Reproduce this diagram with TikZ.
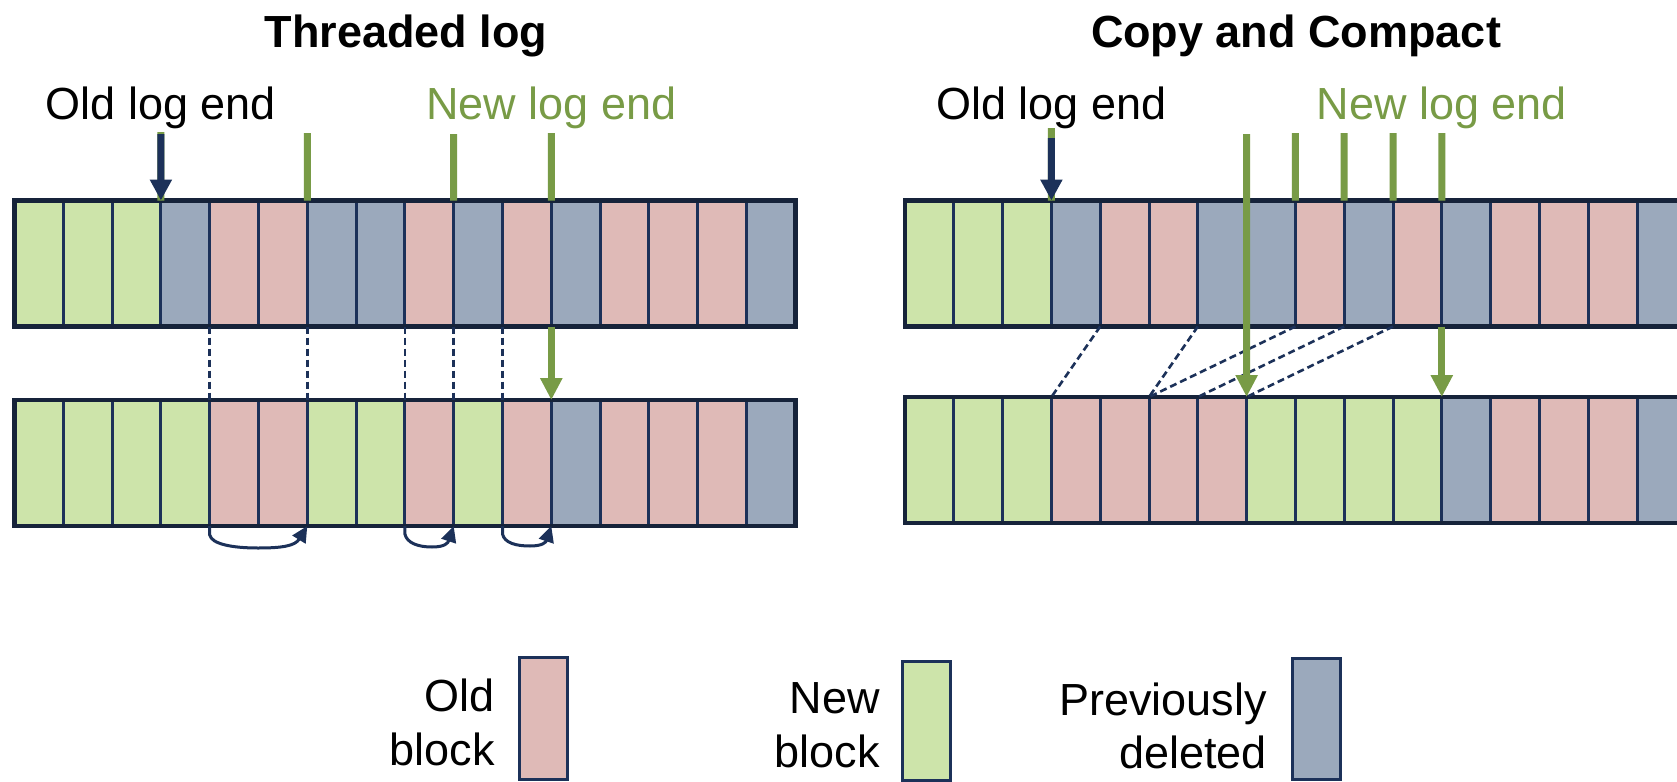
\documentclass[tikz,border=0pt]{standalone}
\usepackage{fontspec}
\setmainfont{Liberation Sans}
\usetikzlibrary{arrows.meta,calc}
\definecolor{cG}{HTML}{CDE4AA}
\definecolor{cR}{HTML}{DFBAB7}
\definecolor{cD}{HTML}{9BA9BC}
\definecolor{navy}{HTML}{1C3159}
\definecolor{framec}{HTML}{16233A}
\definecolor{olive}{HTML}{789B46}
\begin{document}
\begin{tikzpicture}[x=1pt,y=-1pt,
  cell/.style={draw=navy, line width=3pt, minimum width=48.8pt, minimum height=126pt, inner sep=0pt, outer sep=0pt},
  frameline/.style={draw=framec, line width=4.5pt},
  lbl/.style={font=\fontsize{45}{54}\selectfont, inner sep=0pt},
  ttl/.style={font=\bfseries\fontsize{45}{54}\selectfont, inner sep=0pt},
  navyarr/.style={draw=navy, line width=7pt, -{Triangle[length=21pt,width=21pt]}},
  oliveline/.style={draw=olive, line width=7pt},
  olivearr/.style={draw=olive, line width=7pt, -{Triangle[length=22pt,width=21pt]}},
  dashln/.style={draw=navy, line width=2.6pt, dash pattern=on 7pt off 4pt},
  curvarr/.style={draw=navy, line width=3pt, -{Triangle[length=16pt,width=15pt]}},
  legbox/.style={draw=navy, line width=3pt, minimum width=48pt, inner sep=0pt}
]
\clip (0,0) rectangle (1677,781);
\fill[white] (0,0) rectangle (1677,781);

% titles
\node[ttl, anchor=base] (t1) at (406,48) {Threaded log};
\node[ttl, anchor=base] (t2) at (1296,48) {Copy and Compact};

% ---------- left: threaded log ----------
\foreach \c [count=\i from 0] in {G,G,G,D,R,R,D,D,R,D,R,D,R,R,R,D}
  \node[cell, fill=c\c] (LT\i) at ({14.5+48.8*\i+24.4},263.5) {};
\draw[frameline] (LT0.north west) rectangle (LT15.south east);
\foreach \c [count=\i from 0] in {G,G,G,G,R,R,G,G,R,G,R,D,R,R,R,D}
  \node[cell, fill=c\c] (LB\i) at ({14.5+48.8*\i+24.4},463) {};
\draw[frameline] (LB0.north west) rectangle (LB15.south east);

\node[lbl, anchor=base] (oldL) at (160.9,120) {Old log end};
\node[lbl, anchor=base, text=olive] (newL) at (551.3,120) {New log end};

\coordinate (gL3) at (160.9,132);
\coordinate (aL3) at (160.9,134);
\coordinate (gL6) at (307.3,133);
\coordinate (gL9) at (453.7,134);
\coordinate (gL11) at (551.3,133);
\draw[oliveline] (gL3) -- (LT3.north west);
\draw[navyarr] (aL3) -- (LT3.north west);
\draw[oliveline] (gL6) -- (LT6.north west);
\draw[oliveline] (gL9) -- (LT9.north west);
\draw[oliveline] (gL11) -- (LT11.north west);
\draw[olivearr] (LT11.south west) -- (LB11.north west);
\foreach \k in {4,6,8,9,10}
  \draw[dashln] (LT\k.south west) -- (LB\k.north west);

\draw[curvarr] (LB4.south west) -- ++(0,9)
  .. controls ++(2,9) and (232,548) .. (258,548)
  .. controls (282,548) and (295,546) .. (LB6.south west);
\draw[curvarr] (LB8.south west) -- ++(0,8)
  .. controls ++(2,9) and (418,547) .. (432,547)
  .. controls (445,547) and (448,543) .. (LB9.south west);
\draw[curvarr] (LB10.south west) -- ++(0,8)
  .. controls ++(2,9) and (516,546) .. (530,546)
  .. controls (543,546) and (546,542) .. (LB11.south west);

% ---------- right: copy and compact ----------
\foreach \c [count=\i from 0] in {G,G,G,D,R,R,D,D,R,D,R,D,R,R,R,D}
  \node[cell, fill=c\c] (RT\i) at ({905+48.8*\i+24.4},263.5) {};
\draw[frameline] (RT0.north west) rectangle (RT15.south east);
\foreach \c [count=\i from 0] in {G,G,G,R,R,R,R,G,G,G,G,D,R,R,R,D}
  \node[cell, fill=c\c] (RB\i) at ({905+48.8*\i+24.4},460) {};
\draw[frameline] (RB0.north west) rectangle (RB15.south east);

\node[lbl, anchor=base] (oldR) at (1051.4,120) {Old log end};
\node[lbl, anchor=base, text=olive] (newR) at (1441.8,120) {New log end};

\coordinate (gR3) at (1051.4,128);
\coordinate (aR3) at (1051.4,138);
\coordinate (gR8) at (1295.4,133);
\coordinate (gR9) at (1344.2,133);
\coordinate (gR10) at (1393.0,133);
\coordinate (gR11) at (1441.8,133);
\coordinate (gR7) at (1246.6,134);
\draw[oliveline] (gR3) -- (RT3.north west);
\draw[navyarr] (aR3) -- (RT3.north west);
\foreach \k in {8,9,10,11}
  \draw[oliveline] (gR\k) -- (RT\k.north west);
\draw[dashln] (RT4.south west) -- (RB3.north west);
\draw[dashln] (RT6.south west) -- (RB5.north west);
\draw[dashln] (RT8.south west) -- (RB5.north west);
\draw[dashln] (RT9.south west) -- (RB6.north west);
\draw[dashln] (RT10.south west) -- (RB7.north west);
\draw[olivearr] (gR7) -- (RB7.north west);
\draw[olivearr] (RT11.south west) -- (RB11.north west);

% ---------- legend ----------
\node[legbox, fill=cR, minimum height=122pt] (kOld) at (543,718) {};
\node[lbl, anchor=base east] (kOld1) at (495,711) {Old};
\node[lbl, anchor=base east] (kOld2) at (495,765) {block};
\node[legbox, fill=cG, minimum height=119pt] (kNew) at (926.5,720.5) {};
\node[lbl, anchor=base east] (kNew1) at (880,713) {New};
\node[lbl, anchor=base east] (kNew2) at (880,767) {block};
\node[legbox, fill=cD, minimum height=121pt] (kDel) at (1316.5,718.5) {};
\node[lbl, anchor=base east] (kDel1) at (1267,715) {Previously};
\node[lbl, anchor=base east] (kDel2) at (1267,768) {deleted};
\end{tikzpicture}
\end{document}
